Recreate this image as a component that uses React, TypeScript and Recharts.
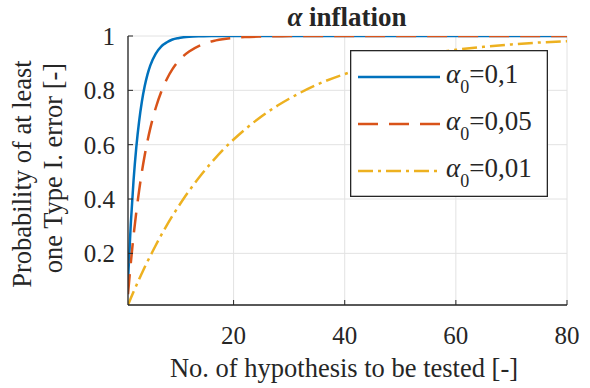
// α inflation: chance of at least one Type I error as more hypotheses get tested,
// one curve per significance level. MATLAB-style frame: inward ticks on all four sides.
import { CartesianGrid, Legend, Line, LineChart, XAxis, YAxis } from "recharts";

const FONT = "Liberation Serif, Tinos, Times New Roman, serif";
const INK = "#262626";

// values
const hypotheses = [
  1, 1.5, 2, 2.5, 3, 3.5, 4, 4.5, 5, 6, 7, 8, 9, 10, 11, 12, 14, 16, 18, 20, 22, 25, 28, 30,
  35, 40, 45, 50, 55, 60, 65, 70, 75, 80,
];
const alpha010 = [
  0.1, 0.308, 0.469, 0.592, 0.686, 0.759, 0.815, 0.858, 0.891, 0.935, 0.962, 0.977, 0.987,
  0.992, 0.995, 0.997, 0.999, 1, 1, 1, 1, 1, 1, 1, 1, 1, 1, 1, 1, 1, 1, 1, 1, 1,
];
const alpha005 = [
  0.05, 0.164, 0.265, 0.353, 0.431, 0.5, 0.56, 0.613, 0.659, 0.736, 0.796, 0.842, 0.878,
  0.906, 0.927, 0.943, 0.966, 0.98, 0.988, 0.993, 0.996, 0.998, 0.999, 1, 1, 1, 1, 1, 1, 1,
  1, 1, 1, 1,
];
const alpha001 = [
  0.01, 0.035, 0.059, 0.082, 0.105, 0.127, 0.149, 0.17, 0.19, 0.23, 0.268, 0.304, 0.338,
  0.37, 0.401, 0.43, 0.485, 0.534, 0.579, 0.619, 0.655, 0.704, 0.745, 0.769, 0.821, 0.86,
  0.891, 0.916, 0.934, 0.949, 0.96, 0.969, 0.976, 0.981,
];
const xTicks = [20, 40, 60, 80];
const yTicks = [0.2, 0.4, 0.6, 0.8, 1];

const SERIES = [
  { key: "a010", label: "=0,1", color: "#0072BD", dash: undefined as string | undefined },
  { key: "a005", label: "=0,05", color: "#D95319", dash: "20 11" },
  { key: "a001", label: "=0,01", color: "#EDB120", dash: "15 5 3 5" },
];

const rows = hypotheses.map((n, i) => ({
  n,
  a010: alpha010[i],
  a005: alpha005[i],
  a001: alpha001[i],
}));

function LegendBox() {
  return (
    <svg width={198} height={147} style={{ display: "block" }}>
      <rect x={0.65} y={0.65} width={196.7} height={145.7} fill="#fff" stroke={INK} strokeWidth={1.3} />
      {SERIES.map((s, i) => {
        const y = 27 + i * 47;
        return (
          <g key={s.key}>
            <line x1={8} x2={90} y1={y} y2={y} stroke={s.color} strokeWidth={2.5} strokeDasharray={s.dash} />
            <text x={96} y={y + 6} style={{ fontFamily: FONT, fontSize: 27 }} fill={INK}>
              <tspan fontStyle="italic">α</tspan>
              <tspan fontSize={18} dy={10}>0</tspan>
              <tspan dy={-10}>{s.label}</tspan>
            </text>
          </g>
        );
      })}
    </svg>
  );
}

const tickStyle = { fontSize: 25, fill: INK, fontFamily: FONT, style: { fontFamily: FONT } };
const blank = () => "";
const labelStyle = { fontFamily: FONT, fontSize: 26.5 };

export default function App() {
  return (
    <div style={{ position: "absolute", left: 0, top: 0, width: 590, height: 388, background: "#fff", fontFamily: FONT }}>
      <LineChart width={590} height={388} data={rows} margin={{ top: 36, right: 23, bottom: 0, left: 0 }}>
        <CartesianGrid xAxisId="b" yAxisId="l" stroke="#e2e2e2" strokeWidth={1} />
        <XAxis
          xAxisId="b"
          dataKey="n"
          type="number"
          domain={[1, 80]}
          ticks={xTicks}
          allowDataOverflow
          height={83}
          tick={tickStyle}
          tickSize={-5}
          tickMargin={26}
          tickLine={{ stroke: INK }}
          axisLine={{ stroke: INK, strokeWidth: 1.3 }}
        />
        <XAxis
          xAxisId="t"
          orientation="top"
          dataKey="n"
          type="number"
          domain={[1, 80]}
          ticks={xTicks}
          allowDataOverflow
          height={0}
          tickFormatter={blank}
          tickSize={-5}
          tickLine={{ stroke: INK }}
          axisLine={{ stroke: INK, strokeWidth: 1.3 }}
        />
        <YAxis
          yAxisId="l"
          type="number"
          domain={[0.01, 1]}
          ticks={yTicks}
          allowDataOverflow
          width={128}
          tick={tickStyle}
          tickFormatter={(v: number) => String(v)}
          tickSize={-5}
          tickMargin={18}
          tickLine={{ stroke: INK }}
          axisLine={{ stroke: INK, strokeWidth: 1.3 }}
        />
        <YAxis
          yAxisId="r"
          orientation="right"
          type="number"
          domain={[0.01, 1]}
          ticks={yTicks}
          allowDataOverflow
          width={0}
          tickFormatter={blank}
          tickSize={-5}
          tickLine={{ stroke: INK }}
          axisLine={{ stroke: INK, strokeWidth: 1.3 }}
        />
        {SERIES.map((s) => (
          <Line
            key={s.key}
            xAxisId="b"
            yAxisId="l"
            type="monotone"
            dataKey={s.key}
            stroke={s.color}
            strokeWidth={2.5}
            strokeDasharray={s.dash}
            dot={false}
            activeDot={false}
            isAnimationActive={false}
          />
        ))}
        <Legend
          layout="vertical"
          align="center"
          verticalAlign="middle"
          content={() => <LegendBox />}
          wrapperStyle={{ left: 350, top: 50, width: 198, height: 147 }}
        />
      </LineChart>
      <svg
        width={590}
        height={388}
        style={{ position: "absolute", left: 0, top: 0, pointerEvents: "none" }}
      >
        <text x={347} y={26} textAnchor="middle" style={{ fontFamily: FONT, fontSize: 27, fontWeight: "bold" }} fill={INK}>
          <tspan fontStyle="italic">α</tspan> inflation
        </text>
        <text x={344} y={377} textAnchor="middle" style={labelStyle} fill={INK}>
          No. of hypothesis to be tested [-]
        </text>
        <text transform="translate(31 174) rotate(-90)" textAnchor="middle" style={labelStyle} fill={INK}>
          Probability of at least
        </text>
        <text transform="translate(62 168) rotate(-90)" textAnchor="middle" style={labelStyle} fill={INK}>
          one Type I. error [-]
        </text>
      </svg>
    </div>
  );
}
